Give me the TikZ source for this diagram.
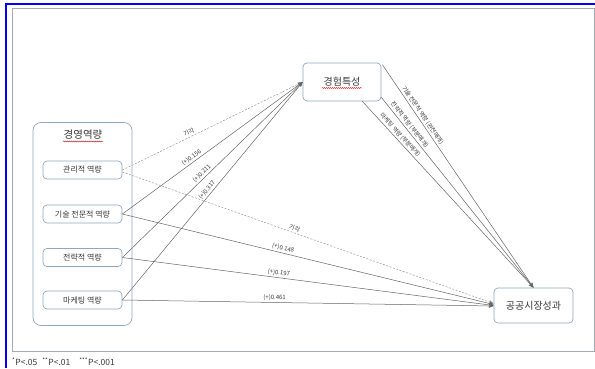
\documentclass[tikz,border=0pt]{standalone}
\usepackage{fontspec}
\setmainfont{Noto Sans CJK KR}
\usetikzlibrary{arrows.meta,decorations.pathmorphing}
\definecolor{bordc}{HTML}{8FA8BF}
\definecolor{txtc}{HTML}{3A3A3A}
\definecolor{linec}{HTML}{666666}
\definecolor{dashc}{HTML}{999999}
\definecolor{framec}{HTML}{A3AAB2}
\begin{document}
\begin{tikzpicture}[x=1pt,y=-1pt,
  box/.style={draw=bordc, line width=0.7pt, rounded corners=4pt, fill=white, text=txtc, inner sep=0pt},
  small/.style={box, minimum width=79pt, minimum height=18pt, font=\fontsize{8}{9}\selectfont},
  title/.style={text=txtc, inner sep=0.5pt, font=\fontsize{10.5}{12}\selectfont},
  conn/.style={draw=linec, line width=0.5pt, -{Stealth[length=5pt,width=4pt]}},
  dconn/.style={conn, draw=dashc, dash pattern=on 2pt off 1.5pt},
  lbl/.style={text=txtc, inner sep=1.5pt, font=\fontsize{6}{7}\selectfont},
  redsq/.style={draw=red!80!black, line width=0.4pt, decorate, decoration={snake, amplitude=0.5pt, segment length=2pt}}
]
\useasboundingbox (0,0) rectangle (595,368);
\fill[white] (0,0) rectangle (595,368);
% frames
\draw[color={rgb,255:red,0;green,0;blue,255}, line width=2pt] (6,368) -- (6,4) -- (595,4);
\draw[framec, line width=0.9pt] (12,8) rectangle (594,351);

% group container
\node[box, rounded corners=8pt, minimum width=99pt, minimum height=203pt] (grp) at (82.5,224) {};
\node[title] (gt) at (83,135) {경영역량};
\draw[redsq] ([yshift=-1pt]gt.south west) -- ([yshift=-1pt]gt.south east);

\node[small] (a1) at (82.5,170) {관리적 역량};
\node[small] (a2) at (82.5,214) {기술 전문적 역량};
\node[small] (a3) at (82.5,257.5) {전략적 역량};
\node[small] (a4) at (82.5,300) {마케팅 역량};

\node[box, minimum width=78pt, minimum height=38pt, font=\fontsize{10}{12}\selectfont] (ex) at (342,82) {경험특성};
\coordinate (exu) at (342,88);
\draw[redsq] ([xshift=-20pt]exu) -- ([xshift=20pt]exu);

\node[box, minimum width=79pt, minimum height=35pt, font=\fontsize{10}{12}\selectfont] (gp) at (533.5,305.5) {공공시장성과};

% to 경험특성
\draw[dconn] (a1.east) -- node[lbl, sloped, above, pos=0.38]{기각} (ex.west);
\draw[conn] (a2.east) -- node[lbl, sloped, above, pos=0.40]{(+)0.156} (ex.west);
\draw[conn] (a3.east) -- node[lbl, sloped, above, pos=0.46]{(+)0.211} (ex.west);
\draw[conn] (a4.east) -- node[lbl, sloped, above, pos=0.49]{(+)0.317} (ex.west);

% to 공공시장성과
\draw[dconn] ([yshift=-2pt]a1.east) -- node[lbl, sloped, above, pos=0.46]{기각} ([yshift=2pt]gp.west);
\draw[conn] (a2.east) -- node[lbl, sloped, above, pos=0.43]{(+)0.148} ([yshift=1pt]gp.west);
\draw[conn] (a3.east) -- node[lbl, sloped, above, pos=0.42]{(+)0.197} (gp.west);
\draw[conn] (a4.east) -- node[lbl, sloped, above, pos=0.41]{(+)0.461} ([yshift=-0.5pt]gp.west);

% mediation
\draw[conn] ([xshift=1pt,yshift=-2pt]ex.north east) -- node[lbl, sloped, above, pos=0.24]{기술 전문적 역량 (완전매개)} (gp.north);
\draw[conn] ([yshift=4pt]ex.south east) -- node[lbl, sloped, above, pos=0.16]{전략적 역량 (부분매개)} (gp.north);
\draw[conn] ([xshift=-19pt]ex.south east) -- node[lbl, sloped, above, pos=0.2]{마케팅 역량 (부분매개)} (gp.north);

% footnote
\node[anchor=west, text=txtc, inner sep=0pt, font=\fontsize{8.5}{10}\selectfont] (fn) at (12,362)
  {\textsuperscript{*}P<.05\hspace{5pt}\textsuperscript{**}P<.01\hspace{9pt}\textsuperscript{***}P<.001};
\end{tikzpicture}
\end{document}
